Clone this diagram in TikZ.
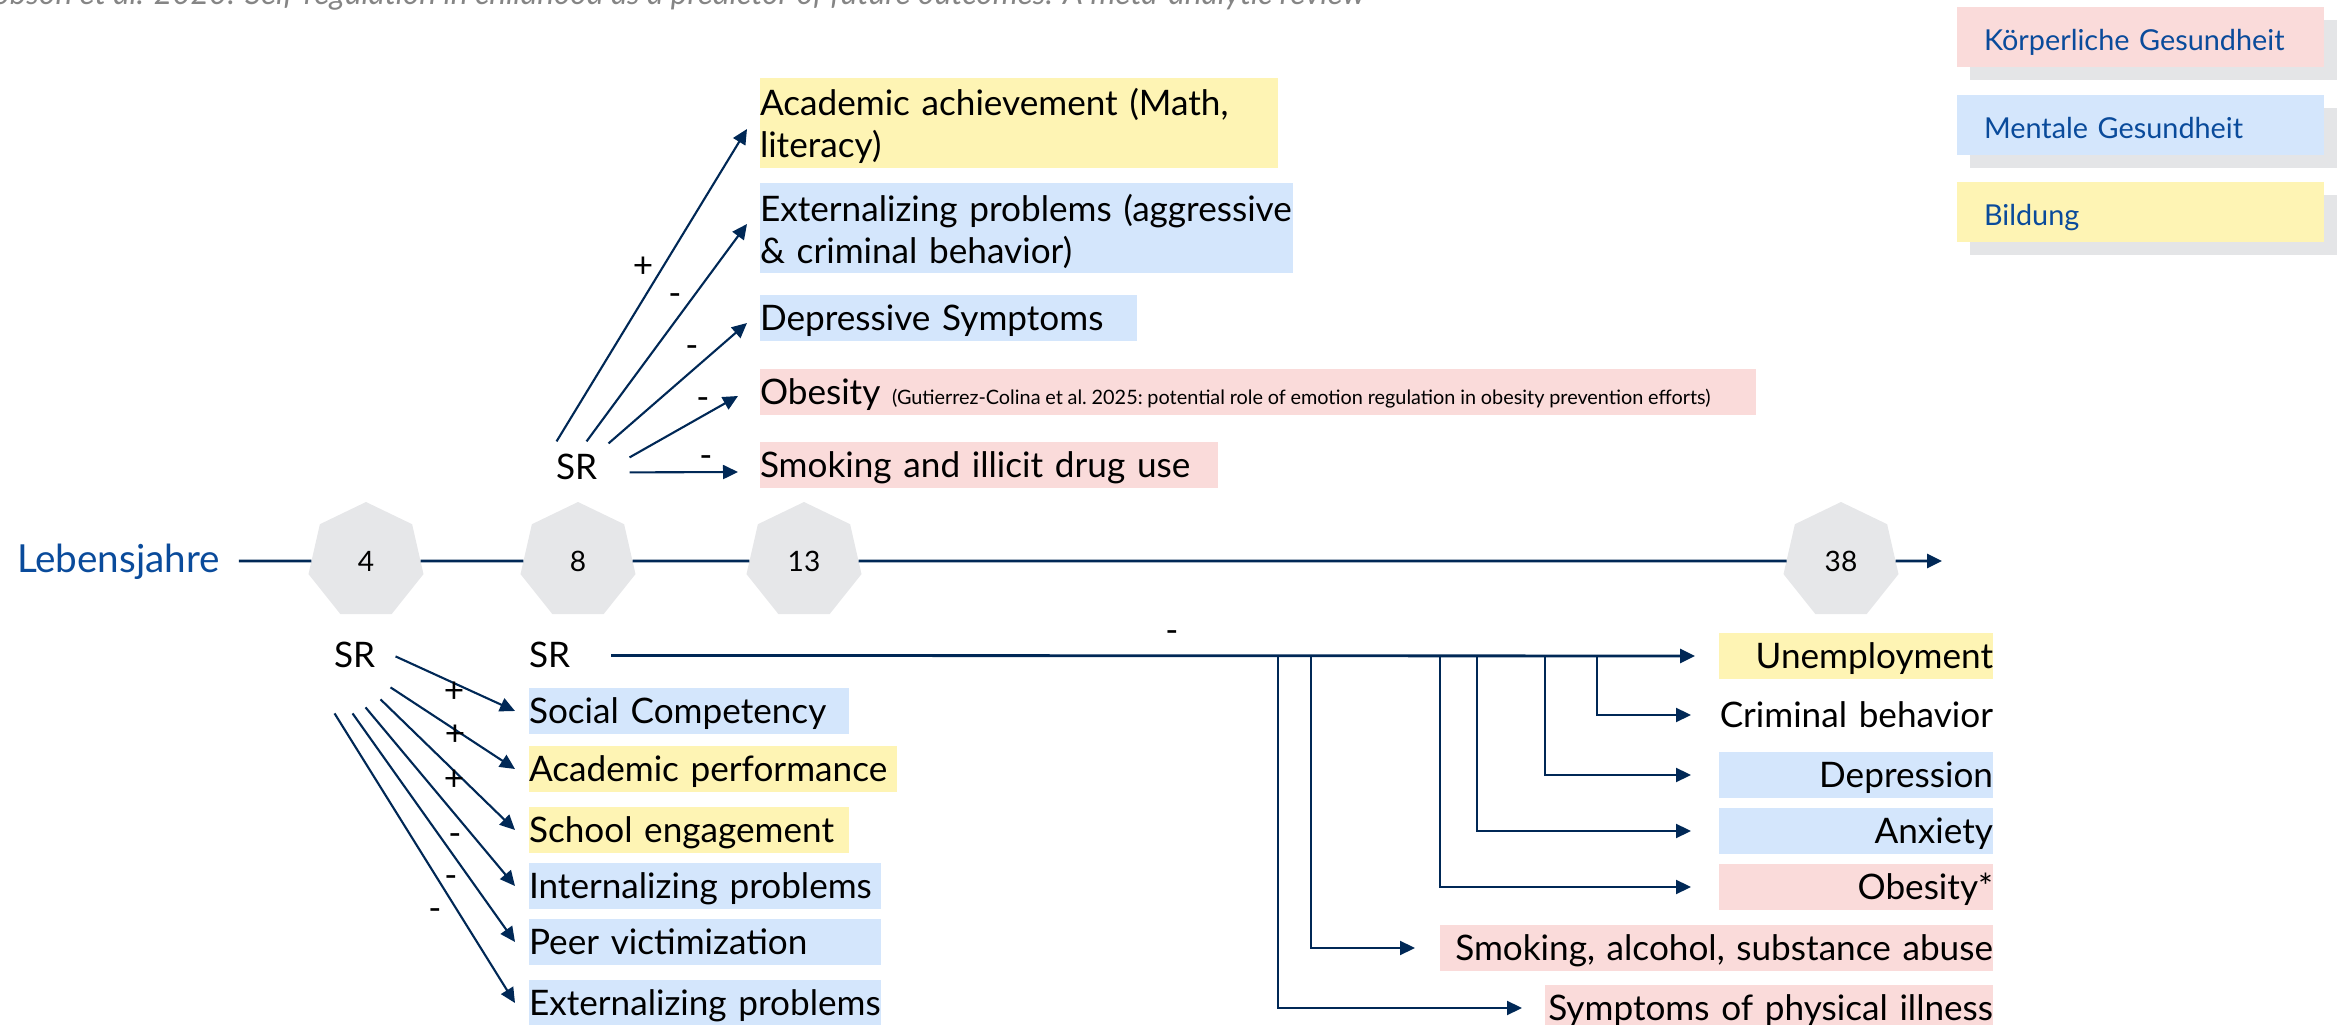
\documentclass[tikz,border=0pt]{standalone}
\usepackage{fontspec}
\setmainfont{Lato}
\usetikzlibrary{shapes.geometric,arrows.meta,shadows,calc}
\definecolor{navy}{HTML}{002856}
\definecolor{lblue}{HTML}{0A4B9B}
\definecolor{cpink}{HTML}{FADBDA}
\definecolor{cblue}{HTML}{D4E6FC}
\definecolor{cyellow}{HTML}{FEF4B4}
\definecolor{hgray}{HTML}{E6E7E9}
\definecolor{sgray}{HTML}{E4E5E7}
\definecolor{tgray}{HTML}{858585}
\newcommand{\obnote}[1]{{\fontsize{5.65}{6.5}\selectfont\frenchspacing\spaceskip=0.24em\relax #1}}
\begin{document}
\begin{tikzpicture}[x=0.1mm,y=-0.1mm,
  every node/.style={inner sep=0pt, outer sep=0pt},
  maintxt/.style={font=\fontsize{10}{12}\selectfont, text=black},
  sgn/.style={maintxt},
  lbox/.style={maintxt, anchor=north west, align=left, minimum height=4.6mm, text height=9.6pt, text depth=2.4pt},
  lboxtwo/.style={maintxt, anchor=north west, align=left, minimum height=9mm},
  rbox/.style={maintxt, anchor=north east, align=right, minimum height=4.6mm, text height=9.6pt, text depth=2.4pt},
  hept/.style={regular polygon, regular polygon sides=7, minimum size=11.8mm, fill=hgray, font=\fontsize{8}{10}\selectfont},
  legend/.style={anchor=north west, minimum height=6mm, text width=31.3mm, inner xsep=2.7mm, align=left,
    text height=7.9pt, text depth=0pt,
    text=lblue, font=\fontsize{8.2}{10}\selectfont,
    copy shadow={shadow xshift=1.3mm, shadow yshift=-1.3mm, fill=sgray, draw=none}},
  tl/.style={draw=navy, line width=0.8pt},
  tip/.style={-{Triangle[length=1.5mm,width=1.4mm]}},
  arr/.style={draw=navy, line width=0.6pt, tip},
  arrthick/.style={draw=navy, line width=0.8pt, tip}
]
\useasboundingbox (0,0) rectangle (2339,1025);

% clipped reference line at the top
\node[anchor=base east, font=\itshape\fontsize{9}{11}\selectfont, text=tgray] (title) at (1365,5)
  {Robson et al. 2020: Self-regulation in childhood as a predictor of future outcomes: A meta-analytic review};

% legend
\node[legend, fill=cpink] (lk) at (1957,7) {Körperliche Gesundheit};
\node[legend, fill=cblue] (lm) at (1957,95) {Mentale Gesundheit};
\node[legend, fill=cyellow] (lb) at (1957,182) {Bildung};

% timeline
\node[anchor=base west, text=lblue, font=\fontsize{11}{13}\selectfont] (leb) at (17,573) {Lebensjahre};
\node[hept] (h4) at (366,561) {4};
\node[hept] (h8) at (578,561) {8};
\node[hept] (h13) at (804,561) {13};
\node[hept] (h38) at (1841,561) {38};
\coordinate (tend) at (1942,561);
\draw[tl, shorten <=1.9mm] (leb.east |- h4) -- (h4);
\draw[tl] (h4) -- (h8);
\draw[tl] (h8) -- (h13);
\draw[tl] (h13) -- (h38);
\draw[tl, tip] (h38) -- (tend);

% upper SR (age 8)
\node[maintxt, anchor=base west] (sr8t) at (556,480) {SR};
\node[lboxtwo, fill=cyellow, minimum width=51.8mm, text width=51.8mm] (acad) at (760,78) {\rule{0pt}{9.5pt}Academic achievement (Math,\\literacy)};
\node[lboxtwo, fill=cblue, minimum width=53.3mm, text width=53.3mm] (extt) at (760,183) {\rule{0pt}{9.5pt}Externalizing problems (aggressive\\\& criminal behavior)};
\node[lbox, fill=cblue, minimum width=37.7mm, text width=37.7mm] (dep) at (760,295) {Depressive Symptoms};
\node[lbox, fill=cpink, minimum width=99.6mm, text width=99.6mm] (obt) at (760,369) {\mbox{Obesity \obnote{(Gutierrez-Colina et al. 2025: potential role of emotion regulation in obesity prevention efforts)}}};
\node[lbox, fill=cpink, minimum width=45.8mm, text width=45.8mm] (smt) at (760,442) {Smoking and illicit drug use};

\draw[arr] ([shift={(-20,-26)}]sr8t.center) -- ([shift={(-13,6)}]acad.west);
\draw[arr] ([shift={(10,-26)}]sr8t.center) -- ([shift={(-13,-4)}]extt.west);
\draw[arr] ([shift={(32,-24)}]sr8t.center) -- ([shift={(-13,5)}]dep.west);
\draw[arr] ([shift={(53,-10)}]sr8t.center) -- ([shift={(-22,4)}]obt.west);
\draw[arr] ([shift={(53,5)}]sr8t.center) -- ([shift={(-22,7)}]smt.west);

\node[sgn] (ta) at (643,267) {+};
\node[sgn] (tb) at (675,300) {-};
\node[sgn] (tc) at (692,352) {-};
\node[sgn] (td) at (703,404) {-};
\node[sgn] (te) at (706,462) {-};

% lower SR (age 4)
\node[maintxt, anchor=base west] (sr4) at (334,668) {SR};
\node[lbox, fill=cblue, minimum width=32mm, text width=32mm] (soc) at (529,688) {Social Competency};
\node[lbox, fill=cyellow, minimum width=36.8mm, text width=36.8mm] (acp) at (529,746) {Academic performance};
\node[lbox, fill=cyellow, minimum width=32mm, text width=32mm] (sch) at (529,807) {School engagement};
\node[lbox, fill=cblue, minimum width=35.2mm, text width=35.2mm] (intp) at (529,863) {Internalizing problems};
\node[lbox, fill=cblue, minimum width=35.2mm, text width=35.2mm] (peer) at (529,919) {Peer victimization};
\node[lbox, fill=cblue, minimum width=35.2mm, text width=35.2mm] (extb) at (529,980) {Externalizing problems};

\draw[arr] ([shift={(41,1)}]sr4.center) -- ([xshift=-1.4mm]soc.west);
\draw[arr] ([shift={(36,32)}]sr4.center) -- ([xshift=-1.4mm]acp.west);
\draw[arr] ([shift={(26,44)}]sr4.center) -- ([xshift=-1.4mm]sch.west);
\draw[arr] ([shift={(11,52)}]sr4.center) -- ([xshift=-1.4mm]intp.west);
\draw[arr] ([shift={(-2,58)}]sr4.center) -- ([xshift=-1.4mm]peer.west);
\draw[arr] ([shift={(-20,58)}]sr4.center) -- ([xshift=-1.4mm]extb.west);

\node[sgn] (ba) at (454,692) {+};
\node[sgn] (bb) at (455,735) {+};
\node[sgn] (bc) at (454,780) {+};
\node[sgn] (bd) at (455,840) {-};
\node[sgn] (be) at (451,882) {-};
\node[sgn] (bf) at (435,915) {-};

% lower SR (age 8) to adulthood outcomes
\node[maintxt, anchor=base west] (sr8b) at (529,668) {SR};
\node[rbox, fill=cyellow, minimum width=27.4mm, text width=27.4mm] (unemp) at (1993,633) {Unemployment};
\node[rbox, minimum width=27.4mm, text width=27.4mm] (crim) at (1993,692) {Criminal behavior};
\node[rbox, fill=cblue, minimum width=27.4mm, text width=27.4mm] (depr) at (1993,752) {Depression};
\node[rbox, fill=cblue, minimum width=27.4mm, text width=27.4mm] (anx) at (1993,808) {Anxiety};
\node[rbox, fill=cpink, minimum width=27.4mm, text width=27.4mm] (obb) at (1993,864) {Obesity*};
\node[rbox, fill=cpink, minimum width=55.3mm, text width=55.3mm] (smk) at (1993,925) {Smoking, alcohol, substance abuse};
\node[rbox, fill=cpink, minimum width=44.8mm, text width=44.8mm] (symp) at (1993,985) {Symptoms of physical illness};

\draw[arrthick, shorten <=4.1mm] (sr8b.east) -- ([xshift=-2.4mm]unemp.west);
\node[sgn] (lm8) at (1172,637) {-};

\coordinate (j1) at (1278,0 |- unemp.west);
\coordinate (j2) at (1311,0 |- unemp.west);
\coordinate (j3) at (1440,0 |- unemp.west);
\coordinate (j4) at (1477,0 |- unemp.west);
\coordinate (j5) at (1545,0 |- unemp.west);
\coordinate (j6) at (1597,0 |- unemp.west);
\draw[arr] (j1) |- ([xshift=-2.3mm]symp.west);
\draw[arr] (j2) |- ([xshift=-2.5mm]smk.west);
\draw[arr] (j3) |- ([xshift=-2.8mm]obb.west);
\draw[arr] (j4) |- ([xshift=-2.8mm]anx.west);
\draw[arr] (j5) |- ([xshift=-2.8mm]depr.west);
\draw[arr] (j6) |- ([xshift=-2.8mm]crim.west);
\end{tikzpicture}
\end{document}
